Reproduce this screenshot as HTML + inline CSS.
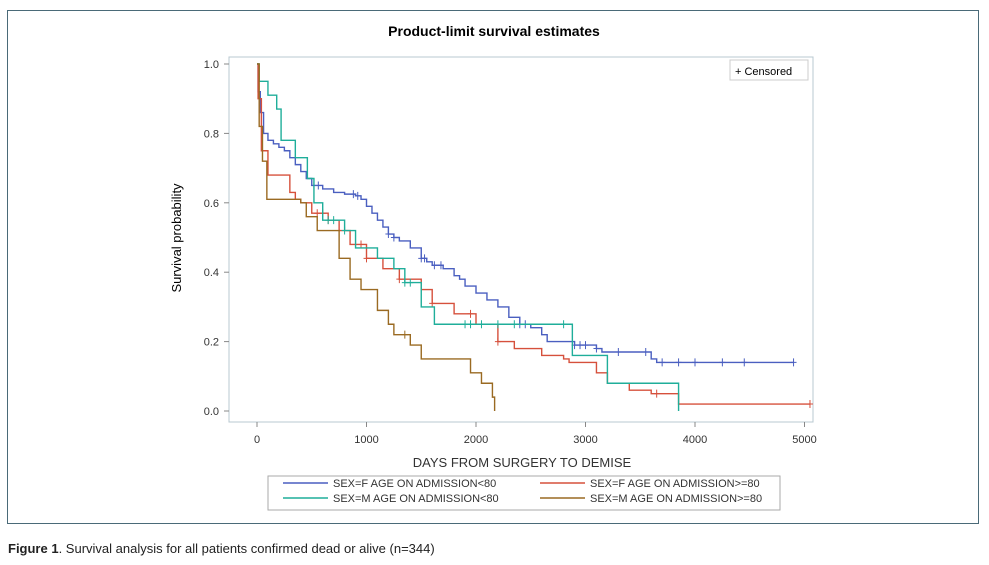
<!DOCTYPE html>
<html><head><meta charset="utf-8"><style>
body{margin:0;background:#fff;width:989px;height:565px;overflow:hidden;font-family:"Liberation Sans",sans-serif}
#frame{position:absolute;left:7px;top:10px;width:972px;height:514px;border:1px solid #4a6a78;box-sizing:border-box}
#caption{position:absolute;left:8px;top:541px;font-size:13px;color:#222}
</style></head><body>
<div id="frame"></div>
<svg id="chart" width="989" height="565" style="position:absolute;left:0;top:0" font-family="Liberation Sans, sans-serif">
<text x="494" y="36" text-anchor="middle" font-size="14" font-weight="bold">Product-limit survival estimates</text>
<rect x="229" y="57" width="584" height="365" fill="none" stroke="#b8c8d0"/>
<text transform="translate(181,238) rotate(-90)" text-anchor="middle" font-size="13">Survival probability</text>
<text x="522" y="467" text-anchor="middle" font-size="13" fill="#333">DAYS FROM SURGERY TO DEMISE</text>
<g id="axes"></g><g id="series"></g>
<g><rect x="730" y="60" width="78" height="20" fill="#fff" stroke="#ccc"/><text x="735" y="75" font-size="11">+ Censored</text></g>
<g><rect x="268" y="476" width="512" height="34" fill="#fff" stroke="#aaa"/></g>
<g id="legend"></g>
</svg>
<div id="caption"><b>Figure 1</b>. Survival analysis for all patients confirmed dead or alive (n=344)</div>
<script>
const xTicks=[0,1000,2000,3000,4000,5000];
const yTicks=[0.0,0.2,0.4,0.6,0.8,1.0];
const seriesNames=["SEX=F AGE ON ADMISSION<80","SEX=F AGE ON ADMISSION>=80","SEX=M AGE ON ADMISSION<80","SEX=M AGE ON ADMISSION>=80"];
const seriesColors=["#4a5fc0","#d6503c","#1fae9a","#9a6a22"];
const blueT=[0,10,30,60,100,150,200,250,300,350,400,450,500,600,700,800,900,950,1000,1050,1100,1150,1200,1250,1300,1400,1500,1550,1600,1700,1800,1850,1900,2000,2100,2200,2300,2400,2500,2600,2650,2900,3100,3150,3600,3650];
const blueS=[1.0,0.92,0.86,0.80,0.78,0.77,0.76,0.75,0.73,0.71,0.69,0.67,0.65,0.64,0.63,0.625,0.62,0.61,0.59,0.57,0.55,0.53,0.51,0.50,0.49,0.47,0.44,0.43,0.42,0.41,0.39,0.38,0.36,0.34,0.32,0.30,0.27,0.25,0.24,0.22,0.20,0.19,0.18,0.17,0.15,0.14];
const blueC=[520,560,880,920,1200,1250,1500,1530,1620,1680,2400,2450,2900,2950,3000,3100,3300,3550,3700,3850,4000,4250,4450,4900];
const redT=[0,10,40,100,300,350,400,500,650,750,850,1000,1150,1300,1500,1600,1800,2000,2200,2350,2600,2800,2850,3100,3200,3400,3600,3850];
const redS=[1.0,0.9,0.75,0.68,0.63,0.61,0.6,0.57,0.55,0.52,0.48,0.44,0.41,0.38,0.35,0.31,0.28,0.25,0.2,0.18,0.16,0.15,0.14,0.11,0.08,0.06,0.05,0.02];
const redC=[550,600,650,900,950,1000,1300,1600,1950,2200,3650,5050];
const tealT=[0,20,100,180,220,350,460,520,600,800,900,1100,1250,1350,1500,1620,2880,3200,3850];
const tealS=[1.0,0.95,0.91,0.87,0.78,0.73,0.67,0.6,0.55,0.52,0.47,0.44,0.41,0.37,0.30,0.25,0.16,0.08,0.0];
const tealC=[650,700,800,1350,1400,1900,1950,2050,2200,2350,2800];
const brownT=[0,20,50,90,400,450,550,750,850,950,1100,1200,1250,1400,1500,1950,2050,2150,2170];
const brownS=[1.0,0.82,0.72,0.61,0.6,0.56,0.52,0.44,0.38,0.35,0.29,0.25,0.22,0.19,0.15,0.11,0.08,0.04,0.0];
const brownC=[1350];
const NS="http://www.w3.org/2000/svg";
const xs=t=>257+t*0.1095, ys=s=>411-s*347;
function mk(tag,attrs,parent){const e=document.createElementNS(NS,tag);for(const k in attrs)e.setAttribute(k,attrs[k]);parent.appendChild(e);return e;}
const ax=document.getElementById('axes');
xTicks.forEach(t=>{mk('line',{x1:xs(t),x2:xs(t),y1:422,y2:427,stroke:'#888'},ax);
 const tx=mk('text',{x:xs(t),y:443,'text-anchor':'middle','font-size':11,fill:'#333'},ax);tx.textContent=t;
 
 });
yTicks.forEach(v=>{mk('line',{x1:224,x2:229,y1:ys(v),y2:ys(v),stroke:'#888'},ax);
 const tx=mk('text',{x:219,y:ys(v)+4,'text-anchor':'end','font-size':11,fill:'#333'},ax);tx.textContent=v.toFixed(1);
 
 });
const sg=document.getElementById('series');
const all=[[blueT,blueS,blueC,4900],[redT,redS,redC,5050],[tealT,tealS,tealC,3850],[brownT,brownS,brownC,2170]];
function survAt(T,S,t){let s=S[0];for(let i=0;i<T.length;i++)if(T[i]<=t)s=S[i];return s;}
all.forEach((d,k)=>{const [T,S,C,end]=d;
 let p='M'+xs(T[0])+','+ys(S[0]);
 for(let i=1;i<T.length;i++){p+=' H'+xs(T[i])+' V'+ys(S[i]);}
 p+=' H'+xs(end);
 const path=mk('path',{d:p,fill:'none',stroke:seriesColors[k],'stroke-width':1.4},sg);
 
 
 C.forEach(t=>{const y=ys(survAt(T,S,t));const c=mk('path',{d:`M${xs(t)},${y-4}V${y+4}M${xs(t)-3},${y}H${xs(t)+3}`,stroke:seriesColors[k],'stroke-width':1},sg);
  
  });
});
const lg=document.getElementById('legend');
const pos=[[283,487],[540,487],[283,502],[540,502]];
const order=[0,1,2,3];
const lgNames=[seriesNames[0],seriesNames[1],seriesNames[2],seriesNames[3]];
const lgColors=[seriesColors[0],seriesColors[1],seriesColors[2],seriesColors[3]];
order.forEach(i=>{const [x,y]=pos[i];
 const g=mk('g',{},lg);
 
 
 mk('line',{x1:x,x2:x+45,y1:y-4,y2:y-4,stroke:lgColors[i],'stroke-width':1.4},g);
 const t=mk('text',{x:x+50,y:y,'font-size':11,fill:'#333'},g);t.textContent=lgNames[i];});
</script>
</body></html>
